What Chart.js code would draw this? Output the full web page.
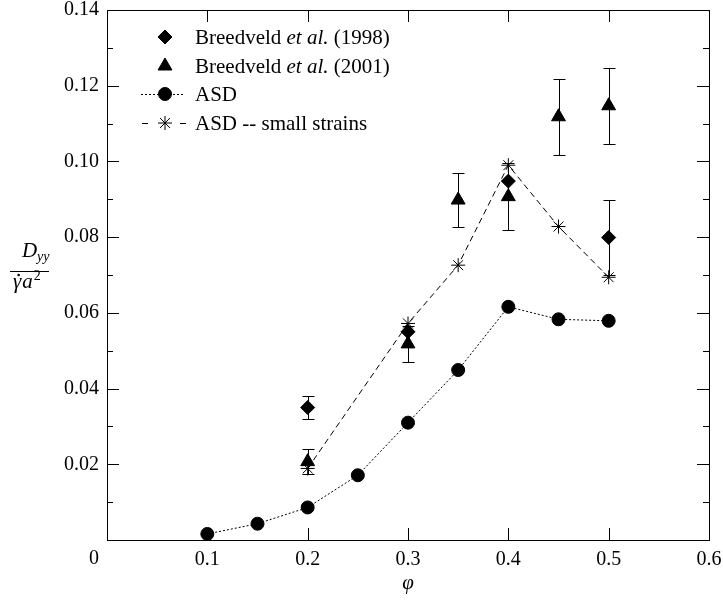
<!DOCTYPE html>
<html>
<head>
<meta charset="utf-8">
<script src="https://cdn.jsdelivr.net/npm/chart.js@4.4.1/dist/chart.umd.min.js"></script>
<style>
  html, body { margin: 0; padding: 0; background: #fff; }
  #grafico { display: block; }
</style>
</head>
<body>
<canvas id="grafico" width="723" height="600"></canvas>
<script>
// Diffusion coefficient D_yy / (gamma-dot a^2) against volume fraction phi

// Breedveld et al. (1998)
const breed98Phi = [0.2, 0.3, 0.4, 0.5];
const breed98D   = [0.035, 0.055, 0.0948, 0.0799];
const breed98Err = [0.003, 0, 0, 0.010];

// Breedveld et al. (2001)
const breed01Phi = [0.2, 0.3, 0.35, 0.4, 0.45, 0.5];
const breed01D   = [0.0207, 0.0518, 0.0898, 0.0907, 0.1118, 0.1147];
const breed01Err = [0.0033, 0.0047, 0.0071, 0.0088, 0.0100, 0.0101];

// ASD
const asdPhi = [0.1, 0.15, 0.2, 0.25, 0.3, 0.35, 0.4, 0.45, 0.5];
const asdD   = [0.0016, 0.0043, 0.0086, 0.0171, 0.0310, 0.0449, 0.0616, 0.0583, 0.0579];

// ASD -- small strains
const smallPhi = [0.2, 0.3, 0.35, 0.4, 0.45, 0.5];
const smallD   = [0.0189, 0.0572, 0.0726, 0.0990, 0.0828, 0.0694];

// Axis ticks
const xTicks      = [0, 0.1, 0.2, 0.3, 0.4, 0.5, 0.6];
const xTickLabels = ['0', '0.1', '0.2', '0.3', '0.4', '0.5', '0.6'];
const yTicks      = [0.02, 0.04, 0.06, 0.08, 0.10, 0.12, 0.14];
const yTickLabels = ['0.02', '0.04', '0.06', '0.08', '0.10', '0.12', '0.14'];
const yMinorTicks = [0.01, 0.03, 0.05, 0.07, 0.09, 0.11, 0.13];

// Legend text, split in runs so "et al." can be italic
const legendLabels = [
  [['Breedveld ', false], ['et al.', true], [' (1998)', false]],
  [['Breedveld ', false], ['et al.', true], [' (2001)', false]],
  [['ASD', false]],
  [['ASD -- small strains', false]]
];

const FONT = "'Liberation Serif', 'Times New Roman', serif";

const toPoints = (xs, ys) => xs.map((v, i) => ({ x: v, y: ys[i] }));

// Error bars: vertical line with short caps, drawn under the markers
const errorBarsPlugin = {
  id: 'errorBars',
  beforeDatasetsDraw(chart) {
    const { ctx } = chart;
    const y = chart.scales.y;
    ctx.save();
    ctx.strokeStyle = '#000';
    ctx.lineWidth = 1;
    chart.data.datasets.forEach((ds, i) => {
      if (!ds.errorBars) return;
      const meta = chart.getDatasetMeta(i);
      meta.data.forEach((pt, j) => {
        const err = ds.errorBars[j];
        if (!err) return;
        const v = ds.data[j].y;
        const px = Math.round(pt.x) + 0.5;
        const top = Math.round(y.getPixelForValue(v + err)) + 0.5;
        const bot = Math.round(y.getPixelForValue(v - err)) + 0.5;
        ctx.beginPath();
        ctx.moveTo(px, top); ctx.lineTo(px, bot);
        ctx.moveTo(px - 6, top); ctx.lineTo(px + 6, top);
        ctx.moveTo(px - 6, bot); ctx.lineTo(px + 6, bot);
        ctx.stroke();
      });
    });
    ctx.restore();
  }
};

// Frame, inward ticks, origin label and axis titles
const framePlugin = {
  id: 'frame',
  afterDraw(chart) {
    const { ctx, chartArea: a } = chart;
    const x = chart.scales.x, y = chart.scales.y;
    ctx.save();
    ctx.strokeStyle = '#000';
    ctx.lineWidth = 1;
    ctx.strokeRect(Math.round(a.left) + 0.5, Math.round(a.top) + 0.5,
                   Math.round(a.right - a.left), Math.round(a.bottom - a.top));
    ctx.beginPath();
    xTicks.forEach(v => {
      const px = Math.round(x.getPixelForValue(v)) + 0.5;
      ctx.moveTo(px, a.bottom); ctx.lineTo(px, a.bottom - 12);
      ctx.moveTo(px, a.top); ctx.lineTo(px, a.top + 12);
    });
    yTicks.forEach(v => {
      const py = Math.round(y.getPixelForValue(v)) + 0.5;
      ctx.moveTo(a.left, py); ctx.lineTo(a.left + 12, py);
      ctx.moveTo(a.right, py); ctx.lineTo(a.right - 12, py);
    });
    yMinorTicks.forEach(v => {
      const py = Math.round(y.getPixelForValue(v)) + 0.5;
      ctx.moveTo(a.left, py); ctx.lineTo(a.left + 6, py);
      ctx.moveTo(a.right, py); ctx.lineTo(a.right - 6, py);
    });
    ctx.stroke();

    ctx.fillStyle = '#000';
    // origin label sits left of the corner
    ctx.font = '20px ' + FONT;
    ctx.textAlign = 'center';
    ctx.textBaseline = 'alphabetic';
    ctx.fillText(xTickLabels[0], x.getPixelForValue(0) - 13, 564);

    // x title
    ctx.font = 'italic 21px ' + FONT;
    ctx.fillText('\u03C6', (a.left + a.right) / 2, 589);

    // y title as a fraction
    ctx.textAlign = 'left';
    ctx.font = 'italic 21px ' + FONT;
    ctx.fillText('D', 22, 257);
    ctx.font = 'italic 14px ' + FONT;
    ctx.fillText('yy', 37, 261);
    ctx.beginPath();
    ctx.moveTo(10, 271.5); ctx.lineTo(49, 271.5);
    ctx.stroke();
    ctx.font = 'italic 21px ' + FONT;
    const gw = ctx.measureText('\u03B3').width;
    ctx.fillText('\u03B3', 13, 288);
    ctx.fillText('a', 13 + gw + 1, 288);
    const aw = ctx.measureText('a').width;
    // dot over gamma
    ctx.beginPath();
    ctx.arc(13 + gw / 2 + 1.5, 275, 1.3, 0, Math.PI * 2);
    ctx.fill();
    ctx.font = '14px ' + FONT;
    ctx.fillText('2', 13 + gw + 1 + aw + 1, 280);
    ctx.restore();
  }
};

// Legend in the upper left corner of the plot
const legendPlugin = {
  id: 'legendaInterna',
  afterDraw(chart) {
    const { ctx } = chart;
    const mx = 165, tx = 195, rows = [37, 66, 94, 123];
    ctx.save();
    ctx.strokeStyle = '#000';
    ctx.fillStyle = '#000';
    ctx.lineWidth = 1;
    chart.data.datasets.forEach((ds, i) => {
      const ry = rows[i];
      if (ds.showLine) {
        ctx.setLineDash(ds.borderDash);
        ctx.beginPath();
        if (ds.pointStyle === 'star') {
          ctx.moveTo(142, ry + 0.5); ctx.lineTo(150, ry + 0.5);
          ctx.moveTo(180, ry + 0.5); ctx.lineTo(188, ry + 0.5);
        } else {
          ctx.moveTo(141, ry + 0.5); ctx.lineTo(184, ry + 0.5);
        }
        ctx.stroke();
        ctx.setLineDash([]);
      }
      Chart.helpers.drawPoint(ctx, {
        pointStyle: ds.pointStyle,
        radius: ds.pointRadius,
        rotation: 0,
        borderWidth: ds.pointBorderWidth || 1
      }, mx, ry);
      let cur = tx;
      ctx.textBaseline = 'middle';
      ctx.textAlign = 'left';
      legendLabels[i].forEach(([txt, it]) => {
        ctx.font = (it ? 'italic ' : '') + '21px ' + FONT;
        ctx.fillText(txt, cur, ry + 1);
        cur += ctx.measureText(txt).width;
      });
    });
    ctx.restore();
  }
};

function dibujar() {
  new Chart(document.getElementById('grafico'), {
    type: 'scatter',
    data: {
      datasets: [
        {
          label: 'Breedveld et al. (1998)',
          data: toPoints(breed98Phi, breed98D),
          errorBars: breed98Err,
          pointStyle: 'rectRot',
          pointRadius: 7,
          backgroundColor: '#000',
          borderColor: '#000',
          showLine: false
        },
        {
          label: 'Breedveld et al. (2001)',
          data: toPoints(breed01Phi, breed01D),
          errorBars: breed01Err,
          pointStyle: 'triangle',
          pointRadius: 8,
          backgroundColor: '#000',
          borderColor: '#000',
          showLine: false
        },
        {
          label: 'ASD',
          data: toPoints(asdPhi, asdD),
          pointStyle: 'circle',
          pointRadius: 6.5,
          backgroundColor: '#000',
          borderColor: '#000',
          borderWidth: 1,
          borderDash: [2, 2],
          showLine: true
        },
        {
          label: 'ASD -- small strains',
          data: toPoints(smallPhi, smallD),
          pointStyle: 'star',
          pointRadius: 7,
          backgroundColor: '#000',
          borderColor: '#000',
          borderWidth: 1,
          borderDash: [6, 4],
          showLine: true
        }
      ]
    },
    options: {
      responsive: false,
      animation: false,
      layout: { padding: { left: 0, top: 10, right: 14, bottom: 0 } },
      plugins: {
        legend: { display: false },
        tooltip: { enabled: false }
      },
      scales: {
        x: {
          type: 'linear',
          min: 0,
          max: 0.6,
          afterBuildTicks: s => { s.ticks = xTicks.map(v => ({ value: v })); },
          afterFit: s => { s.height = 60; s.paddingLeft = 0; s.paddingRight = 0; },
          grid: { display: false, drawTicks: false },
          border: { display: false },
          ticks: {
            autoSkip: false,
            maxRotation: 0,
            padding: 8,
            color: '#000',
            font: { family: FONT, size: 20 },
            callback: (v, i) => (i === 0 ? '' : xTickLabels[i])
          }
        },
        y: {
          type: 'linear',
          min: 0,
          max: 0.14,
          afterBuildTicks: s => { s.ticks = yTicks.map(v => ({ value: v })); },
          afterFit: s => { s.width = 107; s.paddingTop = 0; s.paddingBottom = 0; },
          grid: { display: false, drawTicks: false },
          border: { display: false },
          ticks: {
            autoSkip: false,
            padding: 8,
            color: '#000',
            font: { family: FONT, size: 20 },
            callback: (v, i) => yTickLabels[i]
          }
        }
      }
    },
    plugins: [errorBarsPlugin, framePlugin, legendPlugin]
  });
}

// wait for the serif faces before drawing
Promise.all([
  document.fonts.load("20px 'Liberation Serif'"),
  document.fonts.load("italic 20px 'Liberation Serif'")
]).then(dibujar, dibujar);
</script>
</body>
</html>
